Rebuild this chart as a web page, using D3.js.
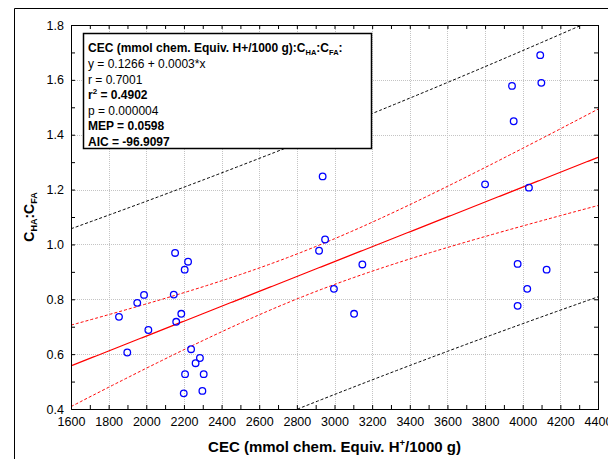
<!DOCTYPE html>
<html>
<head>
<meta charset="utf-8">
<script src="https://cdn.jsdelivr.net/npm/d3@7/dist/d3.min.js"></script>
<style>
  html, body { margin: 0; padding: 0; background: #fff; }
  svg { display: block; font-family: "Liberation Sans", Arial, sans-serif; }
</style>
</head>
<body>
<svg id="chart" width="608" height="459"></svg>
<script>
// CEC (mmol chem. equiv. H+/1000 g) per sample
const cecValues = [
  1855, 1899, 1952, 1988, 2011, 2153, 2222, 2204, 2146, 2186, 2159, 2238,
  2285, 2262, 2206, 2305, 2199, 2298,
  2937, 2950, 2918, 3148, 2997, 3104,
  4093, 3943, 4099, 3952, 3800, 4033, 3973, 4127, 4024, 3973
];
// C_HA:C_FA ratio per sample
const ratioValues = [
  0.736, 0.606, 0.787, 0.816, 0.688, 0.969, 0.937, 0.908, 0.817, 0.747, 0.718, 0.618,
  0.586, 0.567, 0.527, 0.527, 0.457, 0.466,
  1.248, 1.018, 0.977, 0.927, 0.838, 0.747,
  1.690, 1.578, 1.589, 1.449, 1.219, 1.207, 0.929, 0.908, 0.838, 0.776
];
const xTickValues = [1600, 1800, 2000, 2200, 2400, 2600, 2800, 3000, 3200, 3400, 3600, 3800, 4000, 4200, 4400];
const yTickValues = [0.4, 0.6, 0.8, 1.0, 1.2, 1.4, 1.6, 1.8];
const statLines = [
  { text: "y = 0.1266 + 0.0003*x", bold: false },
  { text: "r = 0.7001", bold: false },
  { text: "r2", bold: true },
  { text: "p = 0.000004", bold: false },
  { text: "MEP = 0.0598", bold: true },
  { text: "AIC = -96.9097", bold: true }
];
const tCrit = 2.0369; // Student t, 0.975 quantile, 32 df

const svg = d3.select("#chart");
const plot = { left: 71, top: 25, right: 598, bottom: 409 };

const x = d3.scaleLinear().domain([1600, 4400]).range([plot.left, plot.right]);
const y = d3.scaleLinear().domain([0.4, 1.8]).range([plot.bottom, plot.top]);

// outer frame
svg.append("path")
  .attr("d", `M14.5,459 V8.5 H608`)
  .attr("fill", "none").attr("stroke", "#000").attr("stroke-width", 1);

// grid
const grid = svg.append("g").attr("stroke", "#c4c4c4").attr("stroke-width", 1).attr("stroke-dasharray", "1,1");
grid.selectAll(".gx").data(xTickValues.slice(1, -1)).join("line")
  .attr("x1", d => Math.round(x(d)) + 0.5).attr("x2", d => Math.round(x(d)) + 0.5)
  .attr("y1", plot.top).attr("y2", plot.bottom);
grid.selectAll(".gy").data(yTickValues.slice(1, -1)).join("line")
  .attr("y1", d => Math.round(y(d)) + 0.5).attr("y2", d => Math.round(y(d)) + 0.5)
  .attr("x1", plot.left).attr("x2", plot.right);

// axes with inward ticks on all four sides
const minorX = d3.range(1600, 4401, 100);
const minorY = d3.range(4, 19).map(v => v / 10);
const tickLen = 4;
function styleAxis(g) {
  g.select(".domain").remove();
  g.selectAll("line").attr("stroke", "#000");
}
svg.append("g").attr("transform", `translate(0,${plot.bottom})`)
  .call(d3.axisBottom(x).tickValues(minorX).tickSizeInner(-tickLen).tickSizeOuter(0).tickFormat(""))
  .call(styleAxis);
svg.append("g").attr("transform", `translate(0,${plot.top})`)
  .call(d3.axisTop(x).tickValues(minorX).tickSizeInner(-tickLen).tickSizeOuter(0).tickFormat(""))
  .call(styleAxis);
svg.append("g").attr("transform", `translate(${plot.left},0)`)
  .call(d3.axisLeft(y).tickValues(minorY).tickSizeInner(-tickLen).tickSizeOuter(0).tickFormat(""))
  .call(styleAxis);
svg.append("g").attr("transform", `translate(${plot.right},0)`)
  .call(d3.axisRight(y).tickValues(minorY).tickSizeInner(-tickLen).tickSizeOuter(0).tickFormat(""))
  .call(styleAxis);

// tick labels
const xLab = svg.append("g").attr("transform", `translate(0,${plot.bottom})`)
  .call(d3.axisBottom(x).tickValues(xTickValues).tickSize(0).tickPadding(8).tickFormat(d3.format("d")));
xLab.select(".domain").remove();
xLab.selectAll("text").attr("font-size", 12.5).attr("fill", "#000").attr("font-family", "Liberation Sans, Arial, sans-serif");
const yLab = svg.append("g").attr("transform", `translate(${plot.left},0)`)
  .call(d3.axisLeft(y).tickValues(yTickValues).tickSize(0).tickPadding(7).tickFormat(d3.format(".1f")));
yLab.select(".domain").remove();
yLab.selectAll("text").attr("font-size", 12.5).attr("fill", "#000").attr("font-family", "Liberation Sans, Arial, sans-serif");

// plot border
svg.append("rect")
  .attr("x", plot.left + 0.5).attr("y", plot.top + 0.5)
  .attr("width", plot.right - plot.left).attr("height", plot.bottom - plot.top)
  .attr("fill", "none").attr("stroke", "#000").attr("stroke-width", 1);

// least-squares fit with 95% confidence and prediction bands
const n = cecValues.length;
const mx = d3.mean(cecValues), my = d3.mean(ratioValues);
let sxx = 0, sxy = 0;
for (let i = 0; i < n; i++) {
  sxx += (cecValues[i] - mx) ** 2;
  sxy += (cecValues[i] - mx) * (ratioValues[i] - my);
}
const slope = sxy / sxx, intercept = my - slope * mx;
let sse = 0;
for (let i = 0; i < n; i++) sse += (ratioValues[i] - (intercept + slope * cecValues[i])) ** 2;
const s = Math.sqrt(sse / (n - 2));
const fit = v => intercept + slope * v;
const ci = v => tCrit * s * Math.sqrt(1 / n + (v - mx) ** 2 / sxx);
const pi = v => tCrit * s * Math.sqrt(1 + 1 / n + (v - mx) ** 2 / sxx);

svg.append("clipPath").attr("id", "plotClip").append("rect")
  .attr("x", plot.left + 1).attr("y", plot.top + 1)
  .attr("width", plot.right - plot.left - 1).attr("height", plot.bottom - plot.top - 1);

const xs = d3.range(1600, 4401, 10);
const bandLine = f => d3.line().x(v => x(v)).y(v => y(f(v)))(xs);
const lines = svg.append("g").attr("clip-path", "url(#plotClip)").attr("fill", "none");
lines.append("path").attr("d", bandLine(v => fit(v) + pi(v))).attr("stroke", "#000").attr("stroke-width", 1).attr("stroke-dasharray", "3,2");
lines.append("path").attr("d", bandLine(v => fit(v) - pi(v))).attr("stroke", "#000").attr("stroke-width", 1).attr("stroke-dasharray", "3,2");
lines.append("path").attr("d", bandLine(v => fit(v) + ci(v))).attr("stroke", "#ff0000").attr("stroke-width", 1).attr("stroke-dasharray", "3,2");
lines.append("path").attr("d", bandLine(v => fit(v) - ci(v))).attr("stroke", "#ff0000").attr("stroke-width", 1).attr("stroke-dasharray", "3,2");
lines.append("path").attr("d", bandLine(fit)).attr("stroke", "#ff0000").attr("stroke-width", 1.2);

// observations
svg.append("g").selectAll("circle").data(cecValues).join("circle")
  .attr("cx", (d, i) => x(d)).attr("cy", (d, i) => y(ratioValues[i]))
  .attr("r", 3.3).attr("fill", "none").attr("stroke", "#0000ff").attr("stroke-width", 1.3);

// statistics box
const box = svg.append("g");
box.append("rect").attr("x", 83.5).attr("y", 33.5).attr("width", 288).attr("height", 115)
  .attr("fill", "#fff").attr("stroke", "#000").attr("stroke-width", 1.5);
const title = box.append("text").attr("x", 88).attr("y", 52).attr("font-size", 12).attr("font-weight", "bold");
title.append("tspan").text("CEC (mmol chem. Equiv. H+/1000 g):C");
title.append("tspan").text("HA").attr("font-size", 7.5).attr("dy", 3);
title.append("tspan").text(":C").attr("dy", -3);
title.append("tspan").text("FA").attr("font-size", 7.5).attr("dy", 3);
title.append("tspan").text(":").attr("dy", -3);
statLines.forEach((l, i) => {
  const t = box.append("text").attr("x", 88).attr("y", 68 + i * 15.5)
    .attr("font-size", 12).attr("font-weight", l.bold ? "bold" : "normal");
  if (l.text === "r2") {
    t.append("tspan").text("r");
    t.append("tspan").text("2").attr("font-size", 8).attr("dy", -5);
    t.append("tspan").text(" = 0.4902").attr("dy", 5);
  } else {
    t.text(l.text);
  }
});

// axis titles
const xt = svg.append("text").attr("x", (plot.left + plot.right) / 2).attr("y", 452)
  .attr("text-anchor", "middle").attr("font-size", 15).attr("font-weight", "bold");
xt.append("tspan").text("CEC (mmol chem. Equiv. H");
xt.append("tspan").text("+").attr("font-size", 9.5).attr("dy", -6);
xt.append("tspan").text("/1000 g)").attr("dy", 6);

const yt = svg.append("text").attr("transform", `translate(34,${(plot.top + plot.bottom) / 2}) rotate(-90)`)
  .attr("text-anchor", "middle").attr("font-size", 14).attr("font-weight", "bold");
yt.append("tspan").text("C");
yt.append("tspan").text("HA").attr("font-size", 9).attr("dy", 3);
yt.append("tspan").text(":C").attr("dy", -3);
yt.append("tspan").text("FA").attr("font-size", 9).attr("dy", 3);
</script>
</body>
</html>
